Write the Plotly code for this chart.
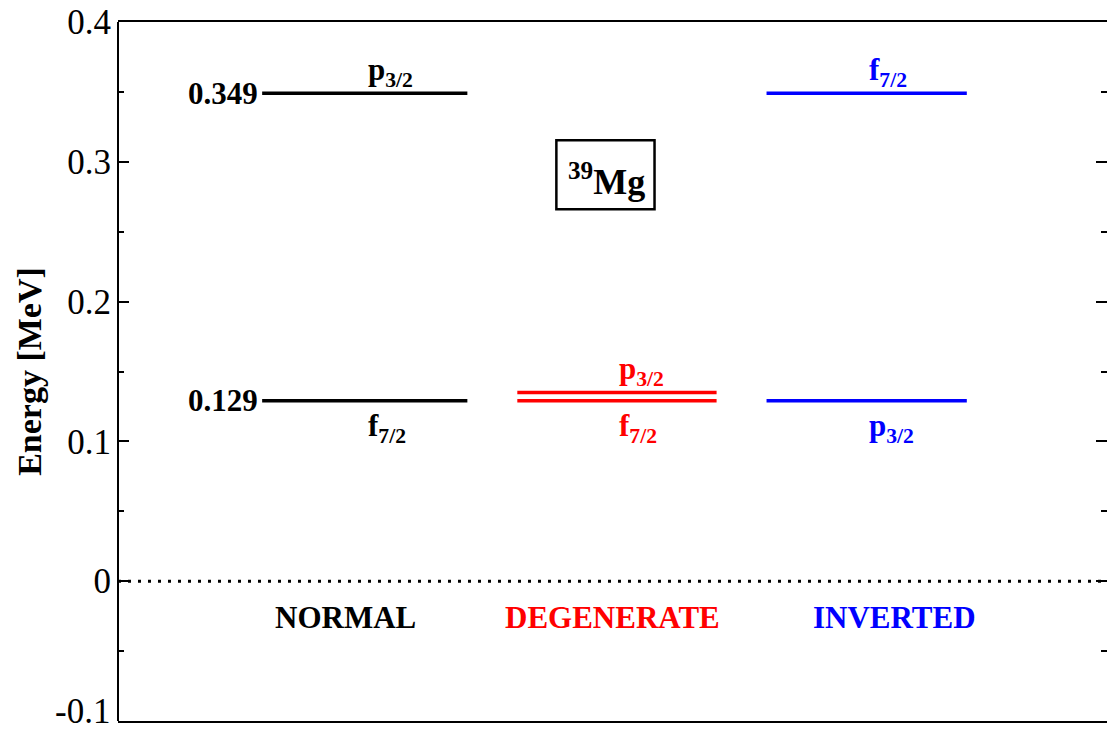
import plotly.graph_objects as go

# ---- data ----
schemes = ["NORMAL", "DEGENERATE", "INVERTED"]
scheme_colors = ["black", "red", "blue"]
scheme_label_x = [0.92, 2.0, 3.14]
label_y = -0.026

# level lines per scheme: (x_start, x_end)
scheme_x = [(0.583, 1.413), (1.615, 2.421), (2.623, 3.433)]
# energies (MeV)
f72_energy = [0.129, 0.129, 0.349]
p32_energy = [0.349, 0.135, 0.129]
orbital_label_x = [1.005, 2.017, 3.03]

y_ticks = [-0.1, 0, 0.1, 0.2, 0.3, 0.4]
y_tick_text = ["-0.1", "0", "0.1", "0.2", "0.3", "0.4"]

fig = go.Figure()

FONT = "Liberation Serif"

for i in range(3):
    x0, x1 = scheme_x[i]
    for e in (f72_energy[i], p32_energy[i]):
        fig.add_trace(go.Scatter(x=[x0, x1], y=[e, e], mode="lines",
                                 line=dict(color=scheme_colors[i], width=3.5),
                                 showlegend=False, hoverinfo="skip"))

# zero line
fig.add_trace(go.Scatter(x=[0, 4], y=[0, 0], mode="lines",
                         line=dict(color="black", width=3, dash="3px,7px"),
                         showlegend=False, hoverinfo="skip"))

ann = []
# values on the left of normal levels
for e in (f72_energy[0], p32_energy[0]):
    ann.append(dict(x=scheme_x[0][0], y=e, text="<b>%.3f</b>" % e, showarrow=False,
                    xanchor="right", yanchor="middle", xshift=-2,
                    font=dict(family=FONT, size=31, color="black")))

# orbital labels
for i in range(3):
    c = scheme_colors[i]
    fe, pe = f72_energy[i], p32_energy[i]
    for e, name in ((fe, "f<sub>7/2</sub>"), (pe, "p<sub>3/2</sub>")):
        above = e >= max(fe, pe) and fe != pe
        ann.append(dict(x=orbital_label_x[i], y=e, text="<b>" + name + "</b>", showarrow=False,
                        xanchor="left", yanchor="bottom" if above else "top",
                        yshift=-1 if above else -5,
                        font=dict(family=FONT, size=31, color=c)))

# scheme names
for i in range(3):
    ann.append(dict(x=scheme_label_x[i], y=label_y, text="<b>" + schemes[i] + "</b>",
                    showarrow=False, xanchor="center", yanchor="middle",
                    font=dict(family=FONT, size=31, color=scheme_colors[i])))

# 39Mg box label
ann.append(dict(x=1.975, y=0.287, text="<b><sup>39</sup>Mg</b>", showarrow=False,
                xanchor="center", yanchor="middle",
                font=dict(family=FONT, size=36, color="black")))

# bottom tick label (drawn as annotation so it is not dropped at the edge)
ann.append(dict(x=0, xref="paper", y=y_ticks[0], yref="y", text=y_tick_text[0],
                showarrow=False, xanchor="right", yanchor="bottom", xshift=-6, yshift=-12,
                font=dict(family=FONT, size=35, color="black")))

fig.add_shape(type="rect", x0=1.773, x1=2.17, y0=0.266, y1=0.3155,
              line=dict(color="black", width=2.5))
# left spine
fig.add_shape(type="line", xref="paper", yref="paper", x0=0, x1=0, y0=0, y1=1,
              line=dict(color="black", width=2))

fig.update_layout(
    width=1107, height=734,
    margin=dict(l=118, r=0, t=22, b=13),
    plot_bgcolor="white", paper_bgcolor="white",
    annotations=ann,
    xaxis=dict(range=[0, 4], showgrid=False, zeroline=False, showticklabels=False,
               showline=True, linecolor="black", linewidth=2, mirror=True, ticks=""),
    yaxis=dict(range=[-0.1, 0.4], showgrid=False, zeroline=False,
               tickvals=y_ticks[1:], ticktext=y_tick_text[1:],
               ticks="inside", ticklen=11, tickwidth=1.5, tickcolor="black",
               ticklabelstandoff=6,
               minor=dict(ticks="inside", ticklen=6, dtick=0.05, tick0=0,
                          tickwidth=1.5, tickcolor="black", showgrid=False),
               showline=False, mirror="ticks",
               tickfont=dict(family=FONT, size=35, color="black"),
               title=dict(text="<b>Energy [MeV]</b>", standoff=15,
                          font=dict(family=FONT, size=34, color="black"))),
)

fig.write_html("out.html")
